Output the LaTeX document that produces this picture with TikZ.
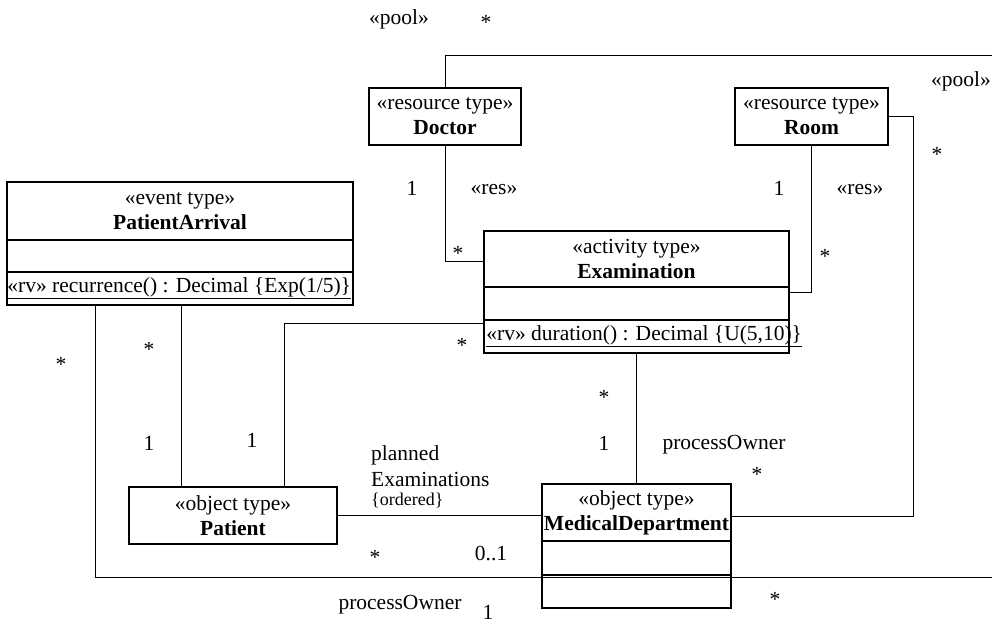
\documentclass[tikz,border=0pt]{standalone}
\usepackage{fontspec}
\setmainfont{Liberation Serif}
\begin{document}
\begin{tikzpicture}[x=1pt,y=-1pt,
  every node/.style={font=\fontsize{21.5}{25}\selectfont, inner sep=0pt},
  box/.style={draw, line width=1.5pt, rectangle, align=center},
  conn/.style={draw, line width=1pt},
  lbl/.style={anchor=base},
  lblw/.style={anchor=base west}]
\useasboundingbox (0,0) rectangle (992,622);
% classes
\node[box, minimum width=152pt, minimum height=57pt] (doc) at (445,116.5) {«resource type»\\\textbf{Doctor}};
\node[box, minimum width=153pt, minimum height=57pt] (room) at (811.5,116.5) {«resource type»\\\textbf{Room}};
\node[box, minimum width=346pt, minimum height=58pt] (pa1) at (180,211) {«event type»\\\textbf{PatientArrival}};
\node[box, minimum width=346pt, minimum height=32pt] (pa2) at (180,256) {};
\node[box, minimum width=346pt, minimum height=33pt] (pa3) at (180,288.5) {};
\node[anchor=west, inner xsep=1pt] (paop) at (pa3.west) {\underline{«rv» recurrence() : Decimal \{Exp(1/5)\}}};
\node[box, minimum width=305pt, minimum height=56pt] (exam1) at (636.5,259) {«activity type»\\\textbf{Examination}};
\node[box, minimum width=305pt, minimum height=33pt] (exam2) at (636.5,303.5) {};
\node[box, minimum width=305pt, minimum height=33pt] (exam3) at (636.5,336.5) {};
\node[anchor=west] (exop) at ([xshift=3pt]exam3.west) {\underline{«rv» duration() : Decimal \{U(5,10)\}}};
\node[box, minimum width=208pt, minimum height=57pt] (patient) at (233,515.5) {«object type»\\\textbf{Patient}};
\node[box, minimum width=189pt, minimum height=57pt] (med1) at (636.5,512.5) {«object type»\\\textbf{MedicalDepartment}};
\node[box, minimum width=189pt, minimum height=34pt] (med2) at (636.5,558) {};
\node[box, minimum width=189pt, minimum height=33pt] (med3) at (636.5,591.5) {};
% free ends
\coordinate (poolA) at (992,55);
\coordinate (poolB) at (992,577);
% connectors
\draw[conn] (doc.north) |- (poolA);
\draw[conn] (doc.south) |- ([yshift=-2pt]exam1.west);
\draw[conn] (room.south) |- ([yshift=11.5pt]exam2.east);
\draw[conn] (room.east) -| (913,516) -- ([yshift=-3.5pt]med1.east);
\draw[conn] ([yshift=13.5pt]exam3.west) -| ([xshift=51pt]patient.north);
\draw[conn] ([xshift=1pt]pa3.south) -- ([xshift=-52pt]patient.north);
\draw[conn] ([xshift=-85pt]pa3.south) |- (poolB);
\draw[conn] (exam3.south) -- (med1.north);
\draw[conn] (patient.east) -- (patient.east -| med1.west);
% labels
\node[lbl] (t1) at (399,24) {«pool»};
\node[lbl] (t2) at (486,29) {*};
\node[lbl] (t3) at (961,86) {«pool»};
\node[lbl] (t4) at (937,161) {*};
\node[lbl] (t5) at (412,195) {1};
\node[lbl] (t6) at (494,194) {«res»};
\node[lbl] (t7) at (458,260) {*};
\node[lbl] (t8) at (779,195) {1};
\node[lbl] (t9) at (860,194) {«res»};
\node[lbl] (t10) at (825,263) {*};
\node[lbl] (t11) at (61,371) {*};
\node[lbl] (t12) at (149,356) {*};
\node[lbl] (t13) at (149,450) {1};
\node[lbl] (t14) at (252,447) {1};
\node[lbl] (t15) at (462,352) {*};
\node[lbl] (t16) at (604,404) {*};
\node[lbl] (t17) at (604,450) {1};
\node[lbl] (t18) at (724,449) {processOwner};
\node[lbl] (t19) at (757,481) {*};
\node[lblw] (t20) at (371,460) {planned};
\node[lblw] (t21) at (371,486) {Examinations};
\node[lblw, font=\fontsize{18}{21}\selectfont] (t22) at (371,505) {\{ordered\}};
\node[lbl] (t23) at (375,564) {*};
\node[lbl] (t24) at (491,560) {0..1};
\node[lbl] (t25) at (775,606) {*};
\node[lbl] (t26) at (400,609) {processOwner};
\node[lbl] (t27) at (488,619) {1};
\end{tikzpicture}
\end{document}
